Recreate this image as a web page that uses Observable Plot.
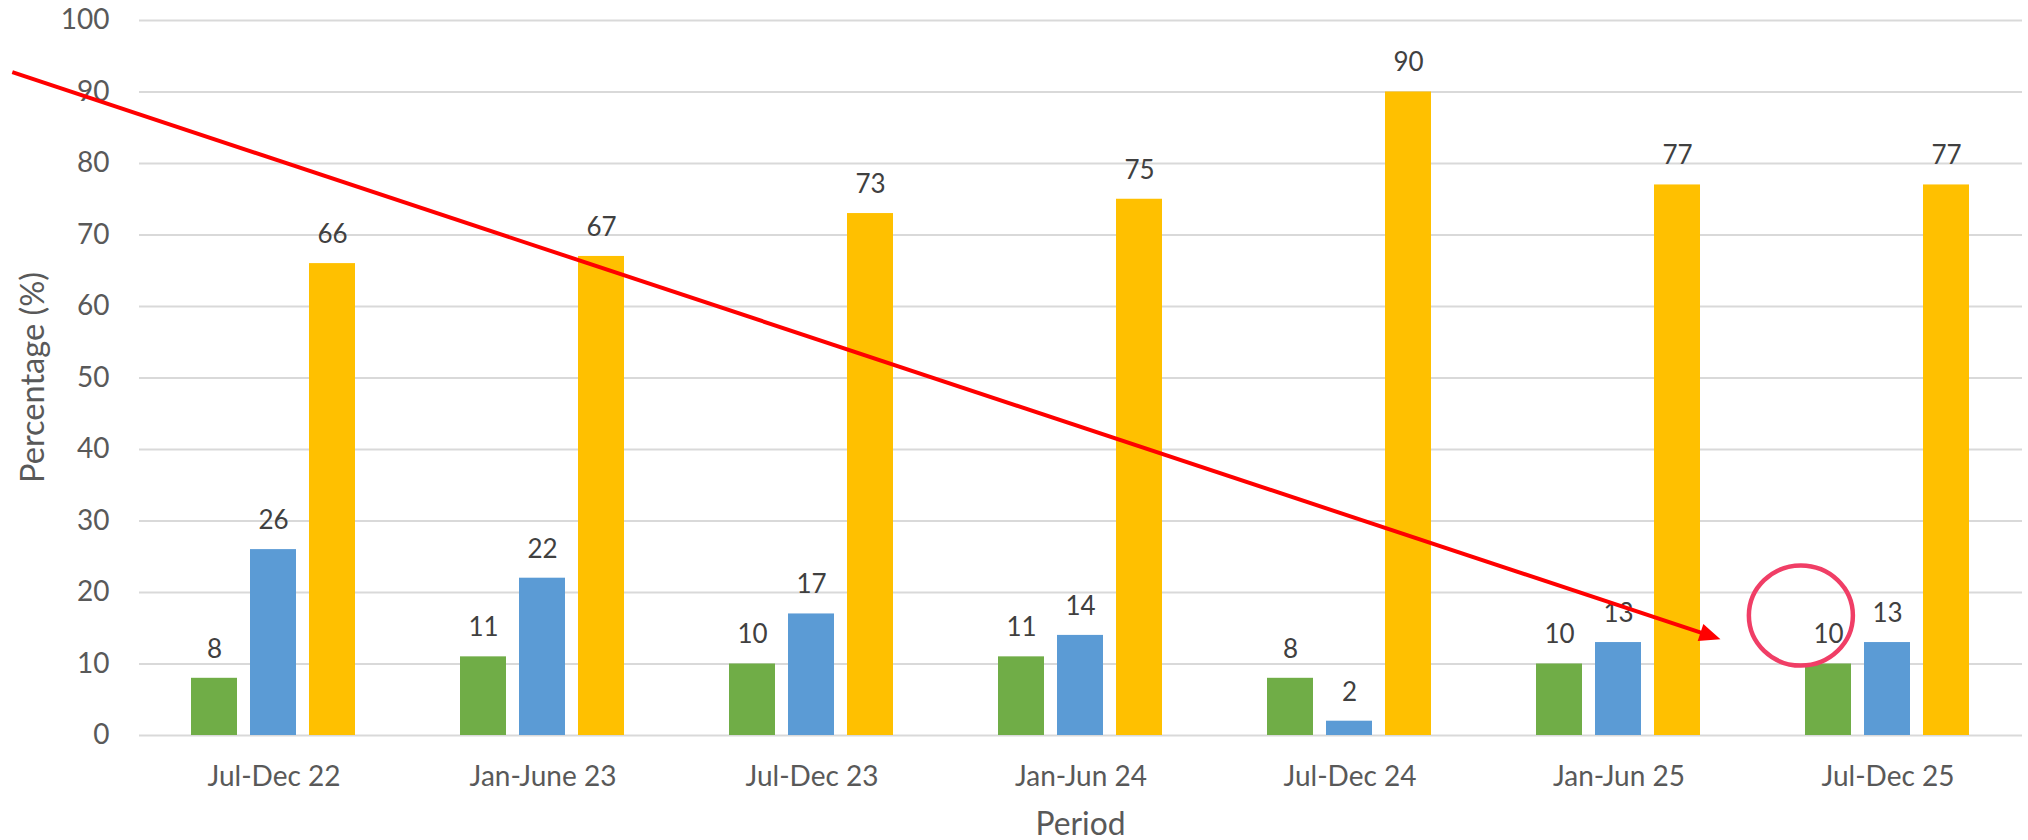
<!DOCTYPE html>
<html>
<head>
<meta charset="utf-8">
<script src="https://cdn.jsdelivr.net/npm/d3@7"></script>
<script src="https://cdn.jsdelivr.net/npm/@observablehq/plot@0.6"></script>
<style>
  html, body { margin: 0; padding: 0; background: #ffffff; }
  #chart svg { display: block; }
</style>
</head>
<body>
<div id="chart"></div>
<script>
// ---- Data ----
const periods = ["Jul-Dec 22", "Jan-June 23", "Jul-Dec 23", "Jan-Jun 24", "Jul-Dec 24", "Jan-Jun 25", "Jul-Dec 25"];
const seriesNames = ["Series 1", "Series 2", "Series 3"];
const series1 = [8, 11, 10, 11, 8, 10, 10];
const series2 = [26, 22, 17, 14, 2, 13, 13];
const series3 = [66, 67, 73, 75, 90, 77, 77];
const yTicks = [0, 10, 20, 30, 40, 50, 60, 70, 80, 90, 100];
const seriesColors = ["#70AD47", "#5B9BD5", "#FFC000"];
const xTitle = "Period";
const yTitle = "Percentage (%)";

const allSeries = [series1, series2, series3];
const rows = [];
periods.forEach((p, i) => {
  seriesNames.forEach((s, j) => rows.push({period: p, series: s, value: allSeries[j][i]}));
});

const FONT = "Lato, 'Open Sans', sans-serif";

const chart = Plot.plot({
  width: 2028,
  height: 840,
  marginLeft: 137,
  marginRight: 5,
  marginTop: 20,
  marginBottom: 105,
  style: {fontFamily: FONT, background: "#ffffff", overflow: "visible"},
  fx: {domain: periods, padding: 0, label: null},
  x: {domain: seriesNames, paddingInner: 13 / 60, paddingOuter: 0.853, axis: null},
  y: {domain: [0, 100], label: null},
  color: {domain: seriesNames, range: seriesColors},
  marks: [
    Plot.gridY(yTicks, {stroke: "#d9d9d9", strokeOpacity: 1, strokeWidth: 2}),
    Plot.axisY(yTicks, {tickSize: 0, tickPadding: 30, fontSize: 28, fill: "#595959", label: null}),
    Plot.axisFx({anchor: "bottom", tickSize: 0, tickPadding: 31, fontSize: 28, fill: "#595959", label: null}),
    Plot.barY(rows, {fx: "period", x: "series", y: "value", fill: "series"}),
    Plot.text(rows, {fx: "period", x: "series", y: "value", text: d => String(d.value),
      dy: -29, fontSize: 26, fill: "#404040"})
  ]
});

document.getElementById("chart").appendChild(chart);

// ---- Axis titles and annotations, placed through the chart's own scales ----
const fx = chart.scale("fx");
const y = chart.scale("y");
const bw = fx.bandwidth;
const px = (period, frac) => fx.apply(period) + frac * bw;
const frameLeft = fx.apply(periods[0]);
const frameRight = fx.apply(periods[periods.length - 1]) + bw;
const frameTop = y.apply(100);
const frameBottom = y.apply(0);

const svg = d3.select(chart);

const titles = svg.append("g")
  .attr("font-family", FONT).attr("font-size", 32).attr("fill", "#595959");
titles.append("text")
  .attr("x", (frameLeft + frameRight) / 2)
  .attr("y", frameBottom + 100)
  .attr("text-anchor", "middle")
  .attr("textLength", 90).attr("lengthAdjust", "spacingAndGlyphs")
  .text(xTitle);
titles.append("text")
  .attr("transform", `translate(${frameLeft - 95},${(frameTop + frameBottom) / 2}) rotate(-90)`)
  .attr("text-anchor", "middle")
  .attr("textLength", 211).attr("lengthAdjust", "spacingAndGlyphs")
  .text(yTitle);

const g = svg.append("g").attr("class", "annotations");

const a0 = [px("Jul-Dec 22", -0.471), y.apply(92.7)];
const a1 = [px("Jan-Jun 25", 0.879), y.apply(13.4)];
const dxA = a1[0] - a0[0], dyA = a1[1] - a0[1];
const len = Math.hypot(dxA, dyA);
const ux = dxA / len, uy = dyA / len;
const headLen = 21, headHalf = 9;
const base = [a1[0] - ux * headLen, a1[1] - uy * headLen];
g.append("line")
  .attr("x1", a0[0]).attr("y1", a0[1])
  .attr("x2", base[0] + ux * 2).attr("y2", base[1] + uy * 2)
  .attr("stroke", "#FF0000").attr("stroke-width", 4);
g.append("polygon")
  .attr("points", [
    a1,
    [base[0] - uy * headHalf, base[1] + ux * headHalf],
    [base[0] + uy * headHalf, base[1] - ux * headHalf]
  ].map(p => p.join(",")).join(" "))
  .attr("fill", "#FF0000");

g.append("ellipse")
  .attr("cx", px("Jul-Dec 25", 0.178))
  .attr("cy", y.apply(16.7))
  .attr("rx", 52).attr("ry", 50)
  .attr("fill", "none")
  .attr("stroke", "#F03E66")
  .attr("stroke-width", 4.5);
</script>
</body>
</html>
